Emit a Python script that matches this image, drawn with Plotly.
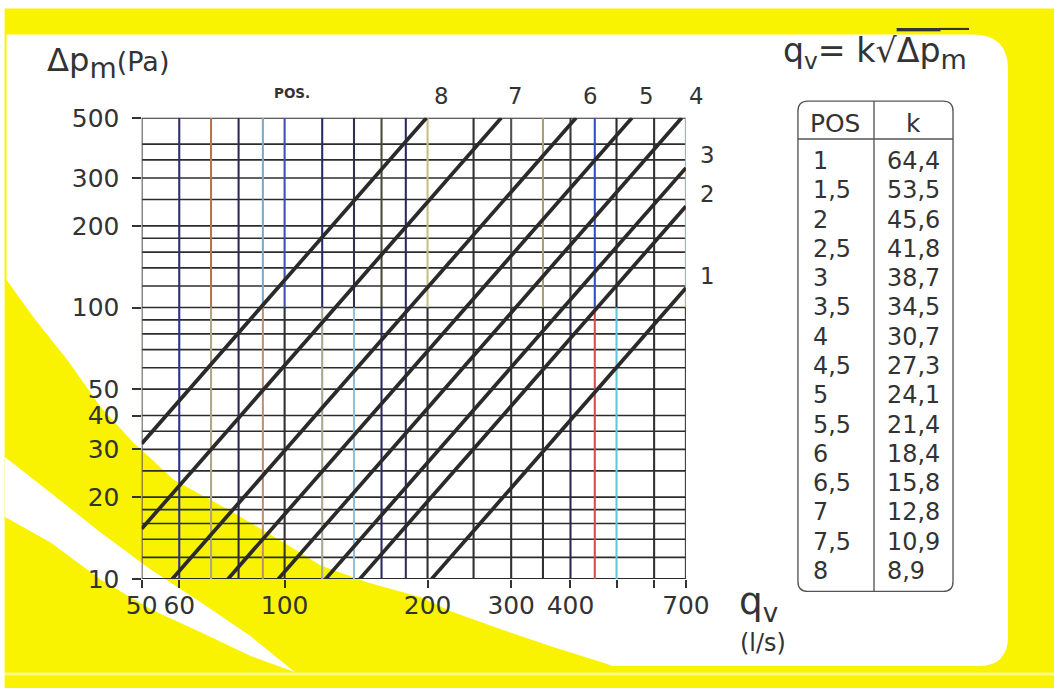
import math
import plotly.graph_objects as go

# ---------------- data ----------------
line_pos = ['1', '2', '3', '4', '5', '6', '7', '8']
line_q_start = [204, 144, 122, 97, 76, 58, 50, 50]
line_dp_start = [10, 10, 10, 10, 10, 10, 15.3, 31.5]
line_q_end = [700, 700, 700, 686, 539, 411, 286, 199]
line_dp_end = [118, 236, 327, 500, 500, 500, 500, 500]

x_tick_vals = [50, 60, 100, 200, 300, 400, 500, 600, 700]
x_tick_text = ['50', '60', '100', '200', '300', '400', '', '', '700']
y_tick_vals = [10, 20, 30, 40, 50, 100, 200, 300, 500]
y_tick_text = ['10', '20', '30', '40', '50', '100', '200', '300', '500']

grid_q = [50, 60, 70, 80, 90, 100, 120, 140, 160, 180, 200, 250, 300, 350,
          400, 450, 500, 600, 700]
grid_dp = [10, 12, 14, 16, 18, 20, 25, 30, 35, 40, 50, 60, 70, 80, 90, 100,
           120, 140, 160, 180, 200, 250, 300, 350, 400, 500]

table_pos = ['1', '1,5', '2', '2,5', '3', '3,5', '4', '4,5', '5', '5,5',
             '6', '6,5', '7', '7,5', '8']
table_k = ['64,4', '53,5', '45,6', '41,8', '38,7', '34,5', '30,7', '27,3',
           '24,1', '21,4', '18,4', '15,8', '12,8', '10,9', '8,9']

# ---------------- page geometry ----------------
# The photographed page shows the figure shrunk by S and shifted by (OX, OY);
# the layout below is written in target-picture pixels and mapped back.
S, OX, OY = 0.963, 15.4, 12.5
WF, HF = 1094, 715

FONT = 'DejaVu Sans'
TXT = '#333333'
YELLOW = '#F9F200'
top_col = {50: '#5a4e4e', 60: '#2e2e6e', 70: '#b07850', 80: '#2c2c58',
           90: '#7aaad0', 100: '#4050b0', 120: '#2a2a70', 140: '#30304a',
           160: '#4a4a3a', 180: '#2a2a60', 200: '#c8c080', 250: '#303030',
           300: '#505050', 350: '#a8a070', 400: '#383838', 450: '#3050c0',
           500: '#2a2a2a', 600: '#303030', 700: '#c8a070'}
bot_col = {50: '#6a5a5a', 60: '#2a3090', 70: '#b0a880', 80: '#2a2a50',
           90: '#c09070', 100: '#303030', 120: '#a8a890', 140: '#90c0d8',
           160: '#2a2a60', 180: '#303050', 200: '#303030', 250: '#303030',
           300: '#303030', 350: '#303030', 400: '#2a2a50', 450: '#d05050',
           500: '#60c8d8', 600: '#303030', 700: '#303030'}


def fs(v):
    return v / S


def px(x):
    return ((x - OX) / S) / WF


def py(y):
    return 1 - ((y - OY) / S) / HF


def P(x, y):
    return f'{px(x):.5f},{py(y):.5f}'


def note(x, y, text, size, xa='center', ya='middle', color=TXT):
    return dict(x=px(x), y=py(y), xref='paper', yref='paper', text=text,
                showarrow=False, xanchor=xa, yanchor=ya,
                font=dict(family=FONT, size=fs(size), color=color))


fig = go.Figure()

ymin, ymax = min(grid_dp), max(grid_dp)
xmin, xmax = min(grid_q), max(grid_q)
split = 100

for d in grid_dp:
    fig.add_trace(go.Scatter(x=[xmin, xmax], y=[d, d], mode='lines',
                             line=dict(color='#2c2c2c', width=fs(1.6)),
                             hoverinfo='skip', showlegend=False))
for q in grid_q:
    fig.add_trace(go.Scatter(x=[q, q], y=[split, ymax], mode='lines',
                             line=dict(color=top_col[q], width=fs(2.0)),
                             hoverinfo='skip', showlegend=False))
    fig.add_trace(go.Scatter(x=[q, q], y=[ymin, split], mode='lines',
                             line=dict(color=bot_col[q], width=fs(2.0)),
                             hoverinfo='skip', showlegend=False))

for i, p in enumerate(line_pos):
    fig.add_trace(go.Scatter(x=[line_q_start[i], line_q_end[i]],
                             y=[line_dp_start[i], line_dp_end[i]],
                             mode='lines', name='POS ' + p,
                             line=dict(color='#2a2a2a', width=fs(3.6)),
                             showlegend=False))

annotations = []
for i, p in enumerate(line_pos):
    if line_dp_end[i] >= ymax:
        annotations.append(dict(x=math.log10(line_q_end[i]), y=math.log10(ymax),
                                xref='x', yref='y', text=p, showarrow=False,
                                xanchor='center', yanchor='middle',
                                xshift=fs(14), yshift=fs(21),
                                font=dict(family=FONT, size=fs(22), color=TXT)))
    else:
        annotations.append(dict(x=math.log10(xmax), y=math.log10(line_dp_end[i]),
                                xref='x', yref='y', text=p, showarrow=False,
                                xanchor='center', yanchor='middle',
                                xshift=fs(21), yshift=fs(12),
                                font=dict(family=FONT, size=fs(22), color=TXT)))

annotations.append(note(291, 92, '<b>POS.</b>', 13))
annotations.append(note(44, 62,
                        "Δp<sub><span style='font-size:%dpx'>m</span></sub>"
                        "<span style='font-size:%dpx'>(Pa)</span>" % (round(fs(27)), round(fs(26))),
                        31, xa='left'))
annotations.append(note(736, 604, 'q<sub>v</sub>', 36, xa='left'))
annotations.append(note(762, 644, '(l/s)', 23))
annotations.append(note(780, 52,
                        "q<sub>v</sub>= k√<span style='text-decoration:overline'>Δp</span>"
                        "<sub><span style='font-size:%dpx'>m</span></sub>" % round(fs(26)),
                        32, xa='left'))

annotations.append(note(834, 122, 'POS', 24))
annotations.append(note(912, 122, 'k', 24))
for i in range(len(table_pos)):
    yy = 160 + i * 29.4
    annotations.append(note(810, yy, table_pos[i], 23, xa='left'))
    annotations.append(note(884, yy, table_k[i], 23, xa='left'))

shapes = []
shapes.append(dict(type='rect', xref='paper', yref='paper', layer='below',
                   x0=px(4), x1=px(1064), y0=py(700), y1=py(7),
                   fillcolor=YELLOW, line=dict(width=0)))
card = ('M ' + P(6, 33) + ' L ' + P(972, 33) + ' Q ' + P(1007, 33) + ' ' + P(1007, 68) +
        ' L ' + P(1007, 637) + ' Q ' + P(1007, 667) + ' ' + P(977, 667) +
        ' L ' + P(6, 667) + ' Z')
shapes.append(dict(type='path', xref='paper', yref='paper', layer='below',
                   path=card, fillcolor='white', line=dict(width=0)))
swoosh_pts = [(5, 278), (33, 317), (67, 360), (100, 407), (133, 443), (141, 450),
              (173, 480), (233, 513), (283, 543), (320, 566), (367, 583),
              (420, 598), (450, 612), (500, 630), (550, 647), (600, 663),
              (615, 668), (5, 668)]
shapes.append(dict(type='path', xref='paper', yref='paper', layer='below',
                   path='M ' + ' L '.join(P(a, b) for a, b in swoosh_pts) + ' Z',
                   fillcolor=YELLOW, line=dict(width=0)))
streak_pts = [(4, 457), (50, 493), (100, 533), (150, 570), (200, 603),
              (250, 637), (294, 673), (250, 657), (200, 633), (150, 610),
              (100, 580), (50, 543), (4, 517)]
shapes.append(dict(type='path', xref='paper', yref='paper', layer='below',
                   path='M ' + ' L '.join(P(a, b) for a, b in streak_pts) + ' Z',
                   fillcolor='white', line=dict(width=0)))
shapes.append(dict(type='line', xref='paper', yref='paper', layer='below',
                   x0=px(4), x1=px(1064), y0=py(675), y1=py(675),
                   line=dict(color='rgba(255,255,255,0.5)', width=fs(3))))
# radical bar continued over the subscript
shapes.append(dict(type='line', xref='paper', yref='paper',
                   x0=px(938), x1=px(968), y0=py(27.5), y1=py(27.5),
                   line=dict(color=TXT, width=fs(2))))
r = 10
tb = ('M ' + P(797 + r, 100) + ' L ' + P(952 - r, 100) + ' Q ' + P(952, 100) + ' ' + P(952, 100 + r) +
      ' L ' + P(952, 592 - r) + ' Q ' + P(952, 592) + ' ' + P(952 - r, 592) +
      ' L ' + P(797 + r, 592) + ' Q ' + P(797, 592) + ' ' + P(797, 592 - r) +
      ' L ' + P(797, 100 + r) + ' Q ' + P(797, 100) + ' ' + P(797 + r, 100) + ' Z')
shapes.append(dict(type='path', xref='paper', yref='paper', path=tb,
                   line=dict(color='#555555', width=fs(1.3))))
shapes.append(dict(type='line', xref='paper', yref='paper',
                   x0=px(797), x1=px(952), y0=py(138), y1=py(138),
                   line=dict(color='#555555', width=fs(1.3))))
shapes.append(dict(type='line', xref='paper', yref='paper',
                   x0=px(873), x1=px(873), y0=py(100), y1=py(592),
                   line=dict(color='#555555', width=fs(1.3))))

fig.update_layout(
    width=WF, height=HF, autosize=False,
    margin=dict(l=0, r=0, t=0, b=0, pad=0),
    paper_bgcolor='white', plot_bgcolor='rgba(0,0,0,0)',
    showlegend=False,
    annotations=annotations, shapes=shapes,
    xaxis=dict(type='log', range=[math.log10(xmin), math.log10(xmax)],
               domain=[px(141), px(685)], showgrid=False, zeroline=False,
               showline=False, tickvals=x_tick_vals, ticktext=x_tick_text,
               ticks='outside', ticklen=fs(8), tickwidth=fs(1.5), tickcolor='#333',
               ticklabelstandoff=-4,
               tickfont=dict(family=FONT, size=fs(24), color=TXT), fixedrange=True),
    yaxis=dict(type='log', range=[math.log10(ymin), math.log10(ymax)],
               domain=[py(579.5), py(116.7)], showgrid=False, zeroline=False,
               showline=False, tickvals=y_tick_vals, ticktext=y_tick_text,
               ticks='outside', ticklen=fs(8), tickwidth=fs(1.5), tickcolor='#333',
               ticklabelstandoff=8,
               tickfont=dict(family=FONT, size=fs(24), color=TXT), fixedrange=True),
)

fig.write_html('out.html')
